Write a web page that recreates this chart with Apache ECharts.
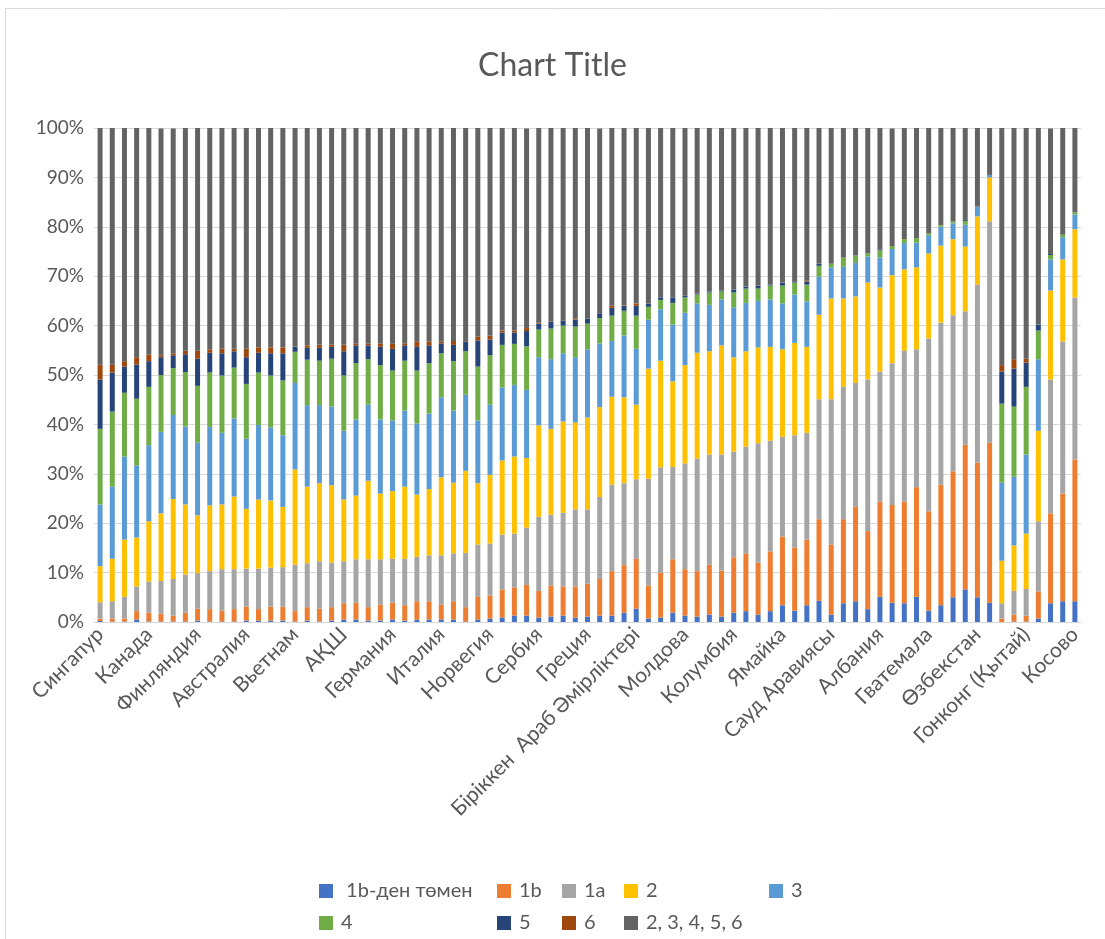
<!DOCTYPE html>
<html>
<head>
<meta charset="utf-8">
<script src="https://cdn.jsdelivr.net/npm/echarts@6/dist/echarts.min.js"></script>
<style>
  html, body { margin: 0; padding: 0; background: #fff; }
  #chart { width: 1105px; height: 939px; }
</style>
</head>
<body>
<div id="chart"></div>
<script>
// елдер (тек әр 4-ші аты көрінеді)
const countries = [
  'Сингапур', '', '', '', 'Канада', '', '', '', 'Финляндия', '', '', '',
  'Австралия', '', '', '', 'Вьетнам', '', '', '', 'АҚШ', '', '', '',
  'Германия', '', '', '', 'Италия', '', '', '', 'Норвегия', '', '', '',
  'Сербия', '', '', '', 'Греция', '', '', '', 'Біріккен  Араб Әмірліктері', '', '', '',
  'Молдова', '', '', '', 'Колумбия', '', '', '', 'Ямайка', '', '', '',
  'Сауд Аравиясы', '', '', '', 'Албания', '', '', '', 'Гватемала', '', '', '',
  'Өзбекстан', '', '', '', 'Гонконг (Қытай)', '', '', '', 'Косово'
];

// деңгейлер бойынша үлестер, %
const below1b = [0.2,0.1,0.1,0.5,0.1,0.1,0.1,0.1,0.3,0.1,0.1,0.1,0.3,0.3,0.3,0.3,0.1,0.3,0.1,0.3,
  0.5,0.5,0.3,0.3,0.5,0.3,0.5,0.5,0.5,0.5,0.1,0.5,0.7,0.9,1.3,1.3,0.9,1.1,1.3,0.9,
  1.1,1.3,1.3,1.9,2.7,0.7,0.9,1.9,1.3,1.1,1.5,1.1,1.9,2.2,1.5,2.2,3.4,2.3,3.4,4.3,
  1.5,3.8,4.2,2.6,5.1,3.9,3.8,5.1,2.3,3.4,5.0,6.6,5.0,3.9,0,0.1,0.1,0.7,3.8,4.2,4.2];
const lvl1b = [0.5,0.6,0.6,1.7,1.8,1.6,1.2,1.8,2.4,2.5,2.2,2.5,2.8,2.3,2.8,2.8,2.1,2.7,2.6,2.7,
  3.3,3.4,2.7,3.2,3.4,3.1,3.7,3.7,3.0,3.7,2.9,4.6,4.7,5.7,5.7,6.2,5.4,6.3,5.9,6.3,
  6.7,7.4,9.0,9.6,10.1,6.7,9.1,10.8,9.4,9.2,10.1,9.3,11.2,11.7,10.5,12.1,13.9,12.8,13.3,16.5,
  14.2,17.0,19.1,15.8,19.3,19.8,20.6,22.2,20.1,24.4,25.5,29.3,27.3,32.4,0.7,1.4,1.2,5.5,18.2,21.8,28.7];
const lvl1a = [3.3,3.5,4.4,5.0,6.3,6.6,7.4,7.7,7.2,7.7,8.4,8.1,7.7,8.2,7.9,8.0,9.4,8.9,9.6,9.0,
  8.5,8.8,9.7,9.2,8.9,9.4,9.0,9.3,10.0,9.7,11.0,10.6,10.5,11.1,10.9,11.6,15.0,14.3,14.9,15.6,
  15.0,16.6,17.5,16.6,16.1,21.6,21.3,18.7,21.4,22.8,22.3,23.5,21.4,21.6,24.2,22.4,20.2,22.7,21.6,24.3,
  29.4,26.8,25.1,30.7,26.3,28.7,30.5,27.9,35.0,32.8,31.6,27.0,36.0,44.8,3.1,4.8,5.4,14.2,27.1,30.8,32.8];
const lvl2 = [7.3,8.6,11.6,9.9,12.2,13.7,16.2,14.2,11.7,13.3,13.1,14.7,12.1,14.0,13.6,12.2,19.3,15.5,15.8,15.7,
  12.5,12.9,15.9,13.3,13.7,14.6,12.6,13.4,15.8,14.3,16.6,12.4,13.9,15.0,15.6,14.1,18.5,17.4,18.5,17.6,
  18.6,18.2,17.8,17.4,15.1,22.3,21.6,17.3,19.9,21.4,20.9,22.1,19.1,19.3,19.4,19.0,17.7,18.7,17.4,17.1,
  20.4,17.9,17.5,19.6,17.0,17.8,16.5,16.6,17.2,15.6,15.4,13.1,13.8,8.9,8.6,9.2,11.2,18.3,18.0,16.6,13.8];
const lvl3 = [12.5,14.6,16.8,14.6,15.4,16.5,17.0,15.8,14.7,15.9,14.5,15.8,14.2,15.1,14.8,14.5,17.5,16.5,15.8,15.9,
  13.9,15.4,15.4,15.0,14.3,15.4,14.4,15.3,16.2,14.6,15.4,12.7,14.2,14.8,14.5,13.8,13.8,14.1,13.8,13.2,
  13.8,12.9,11.3,12.5,11.3,9.9,10.4,11.5,10.6,10.0,9.4,9.3,10.1,9.8,9.4,9.6,9.3,9.8,9.2,7.7,
  6.3,6.4,6.8,5.3,6.1,5.3,5.3,5.0,3.7,3.8,3.2,4.4,1.9,0.5,15.8,13.9,16.0,14.5,6.3,4.5,3.0];
const lvl4 = [15.3,15.2,12.9,13.5,11.8,11.5,9.5,11.0,11.5,11.0,11.6,10.3,11.1,10.6,10.5,11.1,6.3,9.2,9.0,9.7,
  11.2,11.4,9.2,11.0,10.1,10.1,10.7,10.2,8.9,10.0,8.8,10.9,10.0,8.6,8.3,8.8,5.6,6.2,5.6,6.2,
  5.2,5.1,5.1,5.0,6.7,2.6,1.9,4.4,3.1,1.8,2.5,1.6,3.0,2.9,2.5,2.8,3.6,2.4,3.4,2.2,
  0.7,1.9,1.5,0.6,1.4,0.6,0.8,0.9,0.4,0.3,0.4,0.8,0.1,0,16.0,14.2,13.7,5.8,0.9,0.5,0.4];
const lvl5 = [10.0,7.9,5.3,6.9,5.2,3.6,2.6,3.6,5.5,4.0,4.5,3.3,5.4,4.0,4.5,5.5,1.0,2.4,2.6,2.4,
  4.9,3.6,2.8,3.7,4.4,3.1,4.8,3.6,2.0,3.3,2.0,5.3,3.2,2.5,2.3,3.1,1.2,1.4,1.0,1.4,
  1.0,1.0,1.6,1.0,2.0,0.6,0.5,1.1,0.4,0.2,0.2,0.2,0.6,0.4,0.6,0.2,0.6,0.2,0.6,0.4,
  0,0,0,0,0.2,0,0,0,0,0,0,0.2,0,0,6.5,7.7,4.9,1.2,0.2,0,0];
const lvl6 = [3.0,1.6,1.1,1.5,1.3,0.4,0.4,0.7,1.6,0.7,0.9,0.5,1.7,1.1,1.2,1.2,0,0.5,0.6,0.4,
  1.3,0.4,0.4,0.7,1.1,0.4,1.1,0.8,0.4,0.8,0.1,0.8,0.8,0.4,0.4,0.6,0.2,0.1,0,0.2,
  0,0,0.4,0.1,0.5,0,0,0,0,0,0,0,0,0,0,0,0,0,0.2,0,
  0,0,0,0,0,0,0,0,0,0,0,0,0,0,1.3,1.9,0.8,0,0,0,0];
const lvl2to6 = [47.9,47.9,47.2,46.4,45.9,45.9,45.5,45.2,45.1,44.8,44.7,44.7,44.7,44.4,44.4,44.4,44.3,44.0,43.9,43.9,
  43.9,43.6,43.6,43.6,43.6,43.6,43.2,43.2,43.2,43.1,43.1,42.2,42.0,41.0,41.0,40.4,39.4,39.1,39.0,38.6,
  38.6,37.4,36.0,35.9,35.5,35.6,34.3,34.3,33.9,33.5,33.1,32.9,32.7,32.1,31.9,31.7,31.3,31.1,30.9,27.5,
  27.5,26.2,25.8,25.4,24.6,23.8,22.5,22.3,21.3,19.7,18.9,18.6,15.9,9.5,48.0,46.8,46.7,39.8,25.4,21.6,17.1];

const seriesNames = [' 1b-ден төмен', '1b', '1a', '2', '3', '4', '5', '6', '2, 3, 4, 5, 6'];
const seriesData = [below1b, lvl1b, lvl1a, lvl2, lvl3, lvl4, lvl5, lvl6, lvl2to6];
const colors = ['#4472C4', '#ED7D31', '#A5A5A5', '#FFC000', '#5B9BD5', '#70AD47', '#264478', '#9E480E', '#636363'];

const font = 'Lato, "Open Sans", sans-serif';
const txt = '#595959';

// Excel легендасы: бағандар мен қатарлар
const colLeft = [314, 492, 557, 619, 764];
const rowTop = [876, 908];
const legendPos = [[0, 0], [1, 0], [2, 0], [3, 0], [4, 0], [0, 1], [1, 1], [2, 1], [3, 1]];

const chart = echarts.init(document.getElementById('chart'));

const option = {
  animation: false,
  color: colors,
  textStyle: { fontFamily: font },
  title: {
    text: 'Chart Title',
    left: 'center',
    top: 45,
    textStyle: { fontFamily: font, fontSize: 32, fontWeight: 'normal', color: txt }
  },
  graphic: [{
    type: 'rect',
    shape: { x: 5.5, y: 8.5, width: 1200, height: 1000 },
    style: { fill: 'none', stroke: '#D9D9D9', lineWidth: 1 },
    silent: true
  }],
  legend: seriesNames.map((name, i) => ({
    orient: 'horizontal',
    left: colLeft[legendPos[i][0]],
    top: rowTop[legendPos[i][1]],
    itemWidth: 14,
    itemHeight: 14,
    icon: 'rect',
    data: [name],
    textStyle: { fontFamily: font, fontSize: 20, color: txt, padding: [0, 0, 0, 3] }
  })),
  grid: { left: 94, right: 24, top: 128, bottom: 317 },
  xAxis: {
    type: 'category',
    data: countries,
    axisTick: { show: false },
    axisLine: { lineStyle: { color: '#D9D9D9', width: 1 } },
    axisLabel: {
      interval: 3,
      rotate: 45,
      margin: 9,
      fontFamily: font,
      fontSize: 21,
      color: txt
    }
  },
  yAxis: {
    type: 'value',
    min: 0,
    max: 100,
    interval: 10,
    axisLine: { show: false },
    axisTick: { show: false },
    splitLine: { lineStyle: { color: '#D9D9D9', width: 1 } },
    axisLabel: {
      formatter: '{value}%',
      margin: 10,
      fontFamily: font,
      fontSize: 19,
      color: txt
    }
  },
  series: seriesNames.map((name, i) => ({
    name: name,
    type: 'bar',
    stack: 'total',
    barWidth: 5,
    data: seriesData[i],
    itemStyle: { color: colors[i] }
  }))
};

chart.setOption(option);
</script>
</body>
</html>
